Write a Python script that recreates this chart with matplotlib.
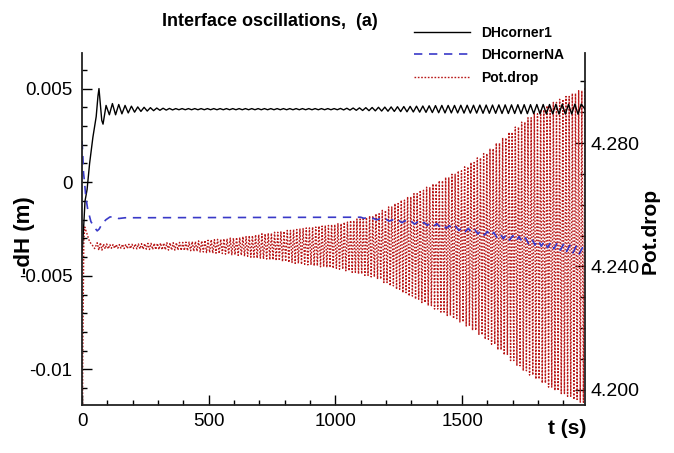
import numpy as np
import matplotlib
matplotlib.use('Agg')
import matplotlib.pyplot as plt
from matplotlib.ticker import MultipleLocator, FixedFormatter, FixedLocator

plt.rcParams['font.family'] = ['Liberation Sans', 'DejaVu Sans']

# ---- data ----
# DHcorner1 (left axis): start-up transient, then ripple around a flat level
black_t0 = [0, 4, 8, 12, 20, 30, 43, 56, 63, 67, 72, 78, 83, 95, 108]
black_v0 = [-0.0038, -0.0030, -0.0020, -0.0010, -0.0004, 0.0010, 0.0024, 0.0035,
            0.0046, 0.0050, 0.0042, 0.0033, 0.0031, 0.0041, 0.0036]
black_mid = 0.0039
black_amp = ([0.00030, 0.00025, 0.00020, 0.00016, 0.00012, 0.00010, 0.00008, 0.00006, 0.00005, 0.00004]
             + [0.00003] * 26
             + [0.00004, 0.00005, 0.00006, 0.00007, 0.00008, 0.00009, 0.00010, 0.00011, 0.00012, 0.00013]
             + [0.00014, 0.00015, 0.00016, 0.00017, 0.00018, 0.00019, 0.00020]
             + [0.00020, 0.00020, 0.00021, 0.00021, 0.00021, 0.00022, 0.00022, 0.00022, 0.00023, 0.00023,
                0.00023, 0.00024, 0.00024, 0.00024, 0.00025, 0.00025, 0.00025, 0.00026, 0.00026, 0.00026,
                0.00027, 0.00027])

# DHcornerNA (left axis)
blue_t0 = [0, 3, 6, 10, 15, 22, 35, 48, 60, 68, 80, 95, 110, 125, 145, 170]
blue_v0 = [0.0022, 0.0015, 0.0005, 0.0, -0.0008, -0.0014, -0.0021, -0.0024, -0.0026, -0.0025,
           -0.0022, -0.0020, -0.00186, -0.00184, -0.00194, -0.0019]
blue_mid = [-0.00190, -0.00193, -0.00197, -0.00200, -0.00203, -0.00207, -0.00210, -0.00213, -0.00217,
            -0.00220, -0.00223, -0.00227, -0.00230, -0.00236, -0.00242, -0.00247, -0.00253, -0.00259,
            -0.00265, -0.00270, -0.00276, -0.00282, -0.00288, -0.00294, -0.00300, -0.00306, -0.00313,
            -0.00319, -0.00325, -0.00332, -0.00338, -0.00344, -0.00351, -0.00357, -0.00363, -0.00370]
blue_amp = [0.00003, 0.00004, 0.00004, 0.00005, 0.00005, 0.00006, 0.00006, 0.00007, 0.00007, 0.00008,
            0.00008, 0.00009, 0.00009, 0.00010, 0.00010, 0.00011, 0.00011, 0.00012, 0.00012, 0.00013,
            0.00013, 0.00014, 0.00014, 0.00015, 0.00015, 0.00016, 0.00016, 0.00017, 0.00017, 0.00018,
            0.00018, 0.00019, 0.00019, 0.00020, 0.00020, 0.00020]

# Pot.drop (right axis): transient, then growing oscillation about a flat level
# (one amplitude entry per 25 s)
red_t0 = [0, 3, 7, 11, 20, 30, 40, 50]
red_v0 = [4.150, 4.210, 4.248, 4.2528, 4.2505, 4.2480, 4.2470, 4.2458]
red_mid = 4.2465
red_amp = [0.0012, 0.0008, 0.0006, 0.0006, 0.0007, 0.0007, 0.0008, 0.0009, 0.0010, 0.0010,
           0.0011, 0.0012, 0.0012, 0.0013, 0.0014, 0.0016, 0.0018, 0.0020, 0.0022, 0.0023,
           0.0025, 0.0027, 0.0029, 0.0032, 0.0035, 0.0038, 0.0041, 0.0043, 0.0046, 0.0049,
           0.0052, 0.0055, 0.0058, 0.0060, 0.0063, 0.0066, 0.0068, 0.0071, 0.0074, 0.0079,
           0.0084, 0.0089, 0.0094, 0.0099, 0.0106, 0.0117, 0.0128, 0.0139, 0.0150, 0.0161,
           0.0171, 0.0182, 0.0192, 0.0203, 0.0213, 0.0224, 0.0234, 0.0245, 0.0258, 0.0272,
           0.0287, 0.0301, 0.0317, 0.0335, 0.0352, 0.0370, 0.0387, 0.0403, 0.0417, 0.0430,
           0.0443, 0.0456, 0.0467, 0.0477, 0.0486, 0.0496, 0.0505, 0.0515]


def zigzag(t_start, half, mids, amps, cycles=1):
    # peaks and troughs, alternating; each amplitude entry spans `cycles` periods
    tt, vv = [], []
    t = t_start
    for k in range(len(amps)):
        for c in range(cycles):
            tt.append(t)
            vv.append(mids[k] + amps[k])
            t += half
            if k == len(amps) - 1 and c == cycles - 1:
                break
            tt.append(t)
            vv.append(mids[k] - amps[k])
            t += half
    return tt, vv


bt, bv = zigzag(120, 12.5, [black_mid] * len(black_amp), black_amp)
black_t = black_t0 + bt + [1985]
black_v = black_v0 + bv + [black_mid]

ut, uv = zigzag(1100, 12.5, blue_mid, blue_amp)
blue_t = blue_t0 + ut + [1985]
blue_v = blue_v0 + uv + [blue_mid[-1]]

rt, rv = zigzag(60, 6.25, [red_mid] * len(red_amp), red_amp, cycles=2)
red_t = red_t0 + rt
red_v = red_v0 + rv

# ---- figure ----
fig = plt.figure(figsize=(6.74, 4.53), dpi=100)
ax = fig.add_axes([82 / 674, 48 / 453, 503 / 674, 352 / 453])
ax2 = ax.twinx()
ax.set_zorder(2)
ax.patch.set_visible(False)

l1, = ax.plot(black_t, black_v, color='black', lw=1.0, label='DHcorner1')
l2, = ax.plot(blue_t, blue_v, color='#3a3ac8', lw=1.2, ls=(0, (5, 4)), label='DHcornerNA')
l3, = ax2.plot(red_t, red_v, color='#b81818', lw=1.0, ls=(0, (1.2, 1.2)), label='Pot.drop')

ax.set_xlim(0, 1985)
ax.set_ylim(-0.0119, 0.0069)
ax2.set_ylim(4.1951, 4.3092)

ax.xaxis.set_major_locator(MultipleLocator(500))
ax.xaxis.set_minor_locator(MultipleLocator(100))
ax.yaxis.set_major_locator(FixedLocator([-0.01, -0.005, 0, 0.005]))
ax.yaxis.set_major_formatter(FixedFormatter(['-0.01', '-0.005', '0', '0.005']))
ax.yaxis.set_minor_locator(MultipleLocator(0.001))
ax2.yaxis.set_major_locator(FixedLocator([4.20, 4.24, 4.28]))
ax2.yaxis.set_major_formatter(FixedFormatter(['4.200', '4.240', '4.280']))
ax2.yaxis.set_minor_locator(MultipleLocator(0.01))

for a in (ax, ax2):
    a.spines['top'].set_visible(False)
    for s in a.spines.values():
        s.set_linewidth(1.3)
        s.set_color('#222222')
ax.spines['right'].set_visible(False)
ax2.spines['left'].set_visible(False)
ax2.spines['bottom'].set_visible(False)

ax.tick_params(axis='both', which='major', direction='in', length=7, width=1, labelsize=13.5)
ax.tick_params(axis='both', which='minor', direction='in', length=3.5, width=1)
ax.tick_params(axis='x', pad=6)
ax.tick_params(axis='y', pad=7)
ax2.tick_params(axis='y', which='major', direction='in', length=7, width=1, labelsize=14, pad=4)
ax2.tick_params(axis='y', which='minor', direction='in', length=3.5, width=1)

fig.text(270 / 674, 1 - 22 / 453, 'Interface oscillations,  (a)', ha='center', va='center',
         fontsize=13, fontweight='bold')
fig.text(25 / 674, 1 - 235 / 453, '-dH (m)', rotation=90, ha='center', va='center',
         fontsize=16, fontweight='bold')
fig.text(650 / 674, 1 - 231 / 453, 'Pot.drop', rotation=90, ha='center', va='center',
         fontsize=15, fontweight='bold')
fig.text(567 / 674, 1 - 428 / 453, 't (s)', ha='center', va='center', fontsize=15, fontweight='bold')

fig.legend([l1, l2, l3], ['DHcorner1', 'DHcornerNA', 'Pot.drop'], loc='upper left',
           bbox_to_anchor=(414 / 674, 1 - 26 / 453), frameon=False,
           handlelength=4.0, handletextpad=0.85, labelspacing=0.6, borderpad=0,
           borderaxespad=0, prop={'weight': 'bold', 'size': 10})

fig.savefig('out.png', dpi=100)
